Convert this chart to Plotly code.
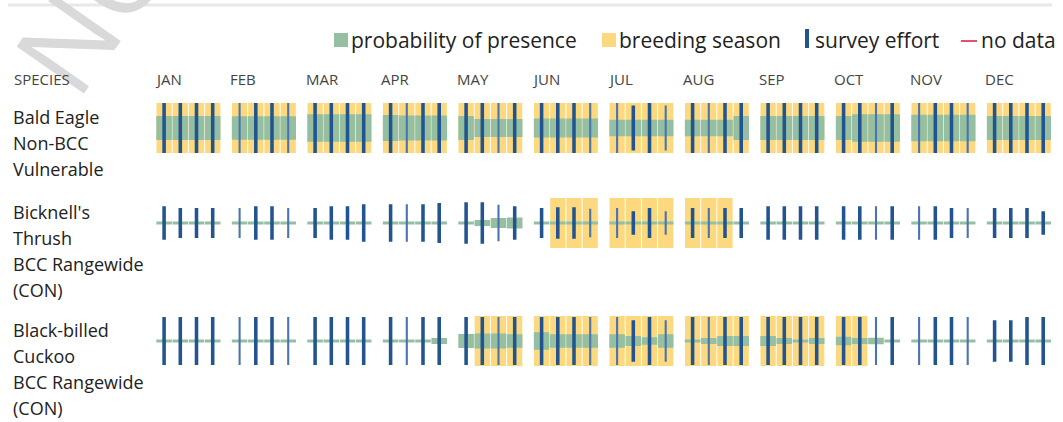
import plotly.graph_objects as go

# ---------------- data ----------------
MONTHS = ["JAN", "FEB", "MAR", "APR", "MAY", "JUN",
          "JUL", "AUG", "SEP", "OCT", "NOV", "DEC"]

SPECIES_LABELS = [
    ["Bald Eagle", "Non-BCC", "Vulnerable"],
    ["Bicknell's", "Thrush", "BCC Rangewide", "(CON)"],
    ["Black-billed", "Cuckoo", "BCC Rangewide", "(CON)"],
]

# 4 weeks per month, JAN..DEC
eagle_breeding = [1, 1, 1, 1,  1, 1, 1, 1,  1, 1, 1, 1,  1, 1, 1, 1,
                  1, 1, 1, 1,  1, 1, 1, 1,  1, 1, 1, 1,  1, 1, 1, 1,
                  1, 1, 1, 1,  1, 1, 1, 1,  1, 1, 1, 1,  1, 1, 1, 1]
eagle_presence = [.48, .48, .48, .48,  .47, .47, .47, .47,  .55, .55, .55, .55,  .52, .50, .50, .50,
                  .48, .36, .36, .36,  .38, .38, .38, .38,  .33, .33, .33, .33,  .33, .33, .33, .48,
                  .48, .48, .48, .48,  .48, .55, .55, .55,  .53, .53, .53, .53,  .48, .48, .48, .48]
eagle_effort = [1, 1, 1, 1,  1, 1, 1, 1,  1, 1, 1, 1,  1, 1, 1, 1,
                1, 1, 1, 1,  1, 1, 1, 1,  1, .9, 1, .9,  1, 1, 1, 1,
                1, 1, 1, 1,  1, 1, 1, 1,  1, 1, 1, 1,  1, 1, 1, 1]

thrush_breeding = [0, 0, 0, 0,  0, 0, 0, 0,  0, 0, 0, 0,  0, 0, 0, 0,
                   0, 0, 0, 0,  0, 1, 1, 1,  1, 1, 1, 1,  1, 1, 1, 0,
                   0, 0, 0, 0,  0, 0, 0, 0,  0, 0, 0, 0,  0, 0, 0, 0]
thrush_presence = [.06, .06, .06, .06,  .06, .06, .06, .06,  .06, .06, .06, .06,  .06, .06, .06, .06,
                   .06, .12, .20, .22,  .06, .06, .06, .06,  .06, .06, .06, .06,  .06, .06, .06, .06,
                   .06, .06, .06, .06,  .06, .06, .06, .06,  .06, .06, .06, .06,  .06, .06, .06, .06]
thrush_effort = [.67, .60, .60, .60,  .60, .67, .67, .60,  .60, .67, .67, .75,  .75, .75, .75, .80,
                 .83, .83, .73, .67,  .60, .63, .63, .57,  .60, .47, .60, .47,  .60, .60, .60, .60,
                 .67, .67, .67, .67,  .67, .67, .67, .67,  .67, .67, .60, .60,  .60, .60, .60, .47]

cuckoo_breeding = [0, 0, 0, 0,  0, 0, 0, 0,  0, 0, 0, 0,  0, 0, 0, 0,
                   0, 1, 1, 1,  1, 1, 1, 1,  1, 1, 1, 1,  1, 1, 1, 1,
                   1, 1, 1, 1,  1, 1, 0, 0,  0, 0, 0, 0,  0, 0, 0, 0]
cuckoo_presence = [.06, .06, .06, .06,  .06, .06, .06, .06,  .06, .06, .06, .06,  .06, .06, .06, .12,
                   .28, .30, .30, .27,  .35, .27, .27, .27,  .27, .20, .15, .27,  .06, .12, .20, .20,
                   .20, .12, .06, .12,  .17, .12, .13, .06,  .06, .06, .06, .06,  .06, .06, .06, .06]
cuckoo_effort = [.96, .96, .96, .96,  .96, .96, .96, .96,  .96, .96, .96, .96,  .96, .96, .96, .96,
                 .96, .96, .96, .96,  .96, .96, .96, .96,  .96, .83, .96, .83,  .96, .96, .96, .96,
                 .96, .96, .96, .96,  .96, .96, .96, .96,  .96, .96, .96, .96,  .83, .83, .96, .96]

# weeks with few surveys (drawn as thin, lighter lines)
effort_low = [0, 0, 0, 0,  1, 0, 0, 1,  0, 0, 0, 0,  0, 1, 0, 0,
              0, 0, 1, 0,  0, 0, 0, 1,  1, 0, 0, 1,  0, 1, 0, 0,
              0, 0, 0, 0,  0, 0, 1, 0,  1, 0, 0, 1,  0, 0, 0, 0]

ROWS = [
    (eagle_breeding, eagle_presence, eagle_effort),
    (thrush_breeding, thrush_presence, thrush_effort),
    (cuckoo_breeding, cuckoo_presence, cuckoo_effort),
]

# ---------------- style / layout ----------------
W, H = 1063, 422
CELL_PX = 16.2
MONTH_PX = 75.5
X0_PX = 156
PERIOD = MONTH_PX / CELL_PX
ROW_TOP_PX = [103, 198, 316]
ROW_H_PX = 50

YELLOW = "#FCD97E"
GREEN = "#95BFA0"
BLUE = "#22548F"
BLUE_LIGHT = "#4A74AE"
RED = "#E8506A"
FONT = "Open Sans"

xs = [(i // 4) * PERIOD + (i % 4) + 0.5 for i in range(48)]

fig = go.Figure()
for r, (breed, pres, eff) in enumerate(ROWS):
    yax = "y" if r == 0 else f"y{r+1}"
    bx = [x for x, b in zip(xs, breed) if b]
    fig.add_trace(go.Bar(x=bx, y=[1] * len(bx), base=-0.5, width=0.94,
                         marker=dict(color=YELLOW, line_width=0),
                         yaxis=yax, hoverinfo="skip", showlegend=False))
    fig.add_trace(go.Bar(x=xs, y=pres, base=[-p / 2 for p in pres], width=0.96,
                         marker=dict(color=GREEN, line_width=0),
                         yaxis=yax, hoverinfo="skip", showlegend=False))
    fig.add_trace(go.Bar(x=xs, y=eff, base=[-h / 2 for h in eff],
                         width=[0.13 if lo else 0.22 for lo in effort_low],
                         marker=dict(color=[BLUE_LIGHT if lo else BLUE for lo in effort_low],
                                     line_width=0),
                         yaxis=yax, hoverinfo="skip", showlegend=False))


def py(px):
    return 1 - px / H


def pxx(px):
    return px / W


layout_axes = {}
for r in range(3):
    key = "yaxis" if r == 0 else f"yaxis{r+1}"
    top = ROW_TOP_PX[r]
    layout_axes[key] = dict(range=[-0.5, 0.5], domain=[py(top + ROW_H_PX), py(top)],
                            visible=False, fixedrange=True, anchor="x")

fig.update_layout(
    width=W, height=H,
    margin=dict(l=0, r=0, t=0, b=0),
    paper_bgcolor="white", plot_bgcolor="white",
    barmode="overlay",
    xaxis=dict(range=[-X0_PX / CELL_PX, (W - X0_PX) / CELL_PX], domain=[0, 1],
               visible=False, fixedrange=True),
    font=dict(family=FONT, color="#222"),
    **layout_axes,
)

ann = []
shapes = []

# watermark
ann.append(dict(text="NOT FOR CONSULTATION", x=pxx(437), y=py(-489), xref="paper", yref="paper",
                xanchor="center", yanchor="middle", showarrow=False, textangle=-55,
                font=dict(family=FONT, size=115, color="#d9d9d9")))

# top rule
shapes.append(dict(type="line", xref="paper", yref="paper", x0=pxx(8), x1=pxx(1052),
                   y0=py(5), y1=py(5), line=dict(color="#e8e8e8", width=3)))

# header
ann.append(dict(text="SPECIES", x=pxx(12), y=py(79), xref="paper", yref="paper",
                xanchor="left", yanchor="middle", showarrow=False,
                font=dict(family=FONT, size=15, color="#444")))
for m, name in enumerate(MONTHS):
    ann.append(dict(text=name, x=m * PERIOD - 0.2, y=py(79), xref="x", yref="paper",
                    xanchor="left", yanchor="middle", showarrow=False,
                    font=dict(family=FONT, size=15, color="#444")))

# species labels
for r, lines in enumerate(SPECIES_LABELS):
    for k, line in enumerate(lines):
        ann.append(dict(text=line, x=pxx(11), y=py(ROW_TOP_PX[r] + 14 + 26 * k),
                        xref="paper", yref="paper", xanchor="left", yanchor="middle",
                        showarrow=False, font=dict(family=FONT, size=18, color="#222")))

# legend
LEG_Y = 40
leg_font = dict(family=FONT, size=21, color="#222")
shapes.append(dict(type="rect", xref="paper", yref="paper", x0=pxx(334), x1=pxx(348),
                   y0=py(47), y1=py(33), fillcolor=GREEN, line_width=0))
ann.append(dict(text="probability of presence", x=pxx(349), y=py(LEG_Y), xref="paper", yref="paper",
                xanchor="left", yanchor="middle", showarrow=False, font=leg_font))
shapes.append(dict(type="rect", xref="paper", yref="paper", x0=pxx(602), x1=pxx(616),
                   y0=py(47), y1=py(33), fillcolor=YELLOW, line_width=0))
ann.append(dict(text="breeding season", x=pxx(617), y=py(LEG_Y), xref="paper", yref="paper",
                xanchor="left", yanchor="middle", showarrow=False, font=leg_font))
shapes.append(dict(type="rect", xref="paper", yref="paper", x0=pxx(805), x1=pxx(809),
                   y0=py(48), y1=py(29), fillcolor=BLUE, line_width=0))
ann.append(dict(text="survey effort", x=pxx(813), y=py(LEG_Y), xref="paper", yref="paper",
                xanchor="left", yanchor="middle", showarrow=False, font=leg_font))
shapes.append(dict(type="line", xref="paper", yref="paper", x0=pxx(961), x1=pxx(977),
                   y0=py(41), y1=py(41), line=dict(color=RED, width=2)))
ann.append(dict(text="no data", x=pxx(979), y=py(LEG_Y), xref="paper", yref="paper",
                xanchor="left", yanchor="middle", showarrow=False, font=leg_font))

fig.update_layout(annotations=ann, shapes=shapes)
fig.write_html("out.html", config={"displayModeBar": False},
               post_script="document.body.style.margin='0';document.body.style.overflow='hidden';")
